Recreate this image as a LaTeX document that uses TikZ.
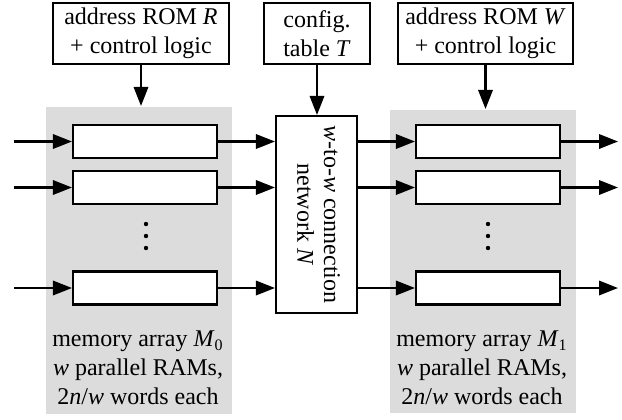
\documentclass[tikz,border=0pt]{standalone}
\usepackage{fontspec}
\setmainfont{Liberation Serif}
\usepackage{xcolor}
\usepackage{tikz}
\usetikzlibrary{arrows.meta}
\definecolor{bankgray}{RGB}{220,220,220}

\begin{document}
\begin{tikzpicture}[x=0.5pt, y=-0.5pt, line width=1.05pt,
        font=\fontsize{12}{14.4}\selectfont,
        ctrl/.style={draw, align=center, minimum height=30.5pt, inner sep=1pt},
        bank/.style={fill=bankgray, minimum width=93pt},
        ram/.style={draw, fill=white, minimum width=72pt, minimum height=16.5pt},
        arr/.style={-{Triangle[length=9.5pt, width=7.2pt]}},
        banktext/.style={align=center, inner sep=0pt}]
    \useasboundingbox (0,0) rectangle (622,419);
    \node[ctrl, minimum width=88pt] (romR) at (141,33.5) {address ROM \textit{R}\\+ control logic};
    \node[ctrl, minimum width=53pt] (cfgT) at (317,33.5) {config.\\table \textit{T}};
    \node[ctrl, minimum width=87.5pt] (romW) at (485.5,33.5) {address ROM \textit{W}\\+ control logic};
    \node[bank, minimum height=153.5pt] (M0) at (139,260.5) {};
    \node[bank, minimum height=151.5pt] (M1) at (483,261.5) {};
    \node[draw, minimum width=40.5pt, minimum height=98.5pt, inner sep=0pt] (net) at (316.5,214.5)
        {\rotatebox{-90}{\begin{tabular}{@{}c@{}}\textit{w}-to-\textit{w} connection\\[-1pt]network \textit{N}\end{tabular}}};
    \node[ram] (ramL1) at (145,141.5) {};
    \node[ram] (ramL2) at (145,187.5) {};
    \node[ram] (ramL3) at (145,288) {};
    \node[ram] (ramR1) at (488,141.5) {};
    \node[ram] (ramR2) at (488,187.5) {};
    \node[ram] (ramR3) at (488,288) {};
    \foreach \y in {224,236,248} {
        \fill (146,\y) circle (1.1pt);
        \fill (488,\y) circle (1.1pt);
    }
    \node[banktext] (M0text) at (138,368) {memory array \textit{M}\textsubscript{0}\\\textit{w} parallel RAMs,\\2\textit{n}/\textit{w} words each};
    \node[banktext] (M1text) at (482,368) {memory array \textit{M}\textsubscript{1}\\\textit{w} parallel RAMs,\\2\textit{n}/\textit{w} words each};
    \coordinate (inL1) at (14,141.5);
    \coordinate (inL2) at (14,187.5);
    \coordinate (inL3) at (14,288);
    \coordinate (outR1) at (618,141.5);
    \coordinate (outR2) at (618,187.5);
    \coordinate (outR3) at (618,288);
    \draw[arr] (romR.south) -- (romR.south |- M0.north);
    \draw[arr] (cfgT.south) -- (cfgT.south |- net.north);
    \draw[arr] (romW.south) -- (romW.south |- M1.north);
    \draw[arr] (inL1) -- (ramL1.west);
    \draw[arr] (inL2) -- (ramL2.west);
    \draw[arr] (inL3) -- (ramL3.west);
    \draw[arr] (ramL1.east) -- (ramL1 -| net.west);
    \draw[arr] (ramL2.east) -- (ramL2 -| net.west);
    \draw[arr] (ramL3.east) -- (ramL3 -| net.west);
    \draw[arr] (ramR1 -| net.east) -- (ramR1.west);
    \draw[arr] (ramR2 -| net.east) -- (ramR2.west);
    \draw[arr] (ramR3 -| net.east) -- (ramR3.west);
    \draw[arr] (ramR1.east) -- (outR1);
    \draw[arr] (ramR2.east) -- (outR2);
    \draw[arr] (ramR3.east) -- (outR3);
\end{tikzpicture}
\end{document}
